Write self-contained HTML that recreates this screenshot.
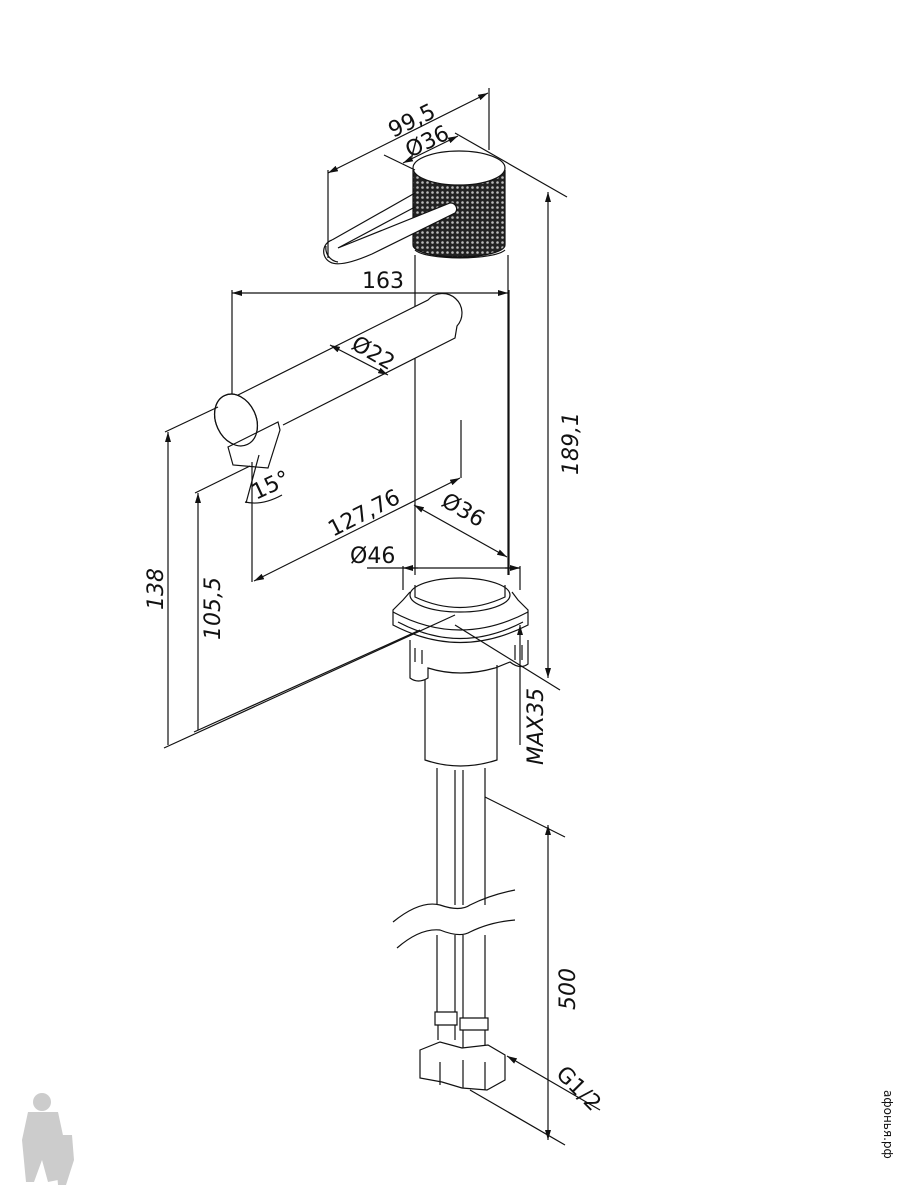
<!DOCTYPE html>
<html><head><meta charset="utf-8"><style>
html,body{margin:0;padding:0;background:#fff;}
svg{display:block;}
text{font-family:"DejaVu Sans","Liberation Sans",sans-serif;fill:#111;}
</style></head><body>
<svg width="900" height="1200" viewBox="0 0 900 1200" xmlns="http://www.w3.org/2000/svg">
<defs>
<marker id="a" viewBox="0 0 10 6" refX="10" refY="3" markerWidth="10" markerHeight="6" orient="auto-start-reverse" markerUnits="userSpaceOnUse"><path d="M0,0 L10,3 L0,6 z" fill="#111"/></marker>
<pattern id="k" width="5" height="5" patternUnits="userSpaceOnUse"><rect width="5" height="5" fill="#222"/><circle cx="2.5" cy="2.5" r="1.3" fill="#bbb"/></pattern>
</defs>
<g fill="none" stroke="#111" stroke-width="1.2">
<!-- knob -->
<path d="M413,170 L413,245 A46,12 0 0 0 505,245 L505,170" fill="url(#k)"/>
<ellipse cx="459" cy="168" rx="46" ry="17" fill="#fff"/>
<path d="M415,250 A46,10 0 0 0 505,250"/>
<!-- lever -->
<path d="M415,193 L332,240 M415,207 L338,248" fill="#fff"/>
<path d="M332,240 A12,12 0 0 0 330,262 Q340,268 372,254 L455,213 A6,6 0 0 0 450,203 L338,248" fill="#fff"/>
<path d="M326,246 A14,14 0 0 0 338,262"/>
<!-- dim 99,5 -->
<line x1="328" y1="173" x2="488" y2="93" marker-start="url(#a)" marker-end="url(#a)"/>
<line x1="328" y1="170" x2="328" y2="258"/>
<line x1="489" y1="88" x2="489" y2="150"/>
<line x1="403" y1="163" x2="458" y2="136" marker-start="url(#a)" marker-end="url(#a)"/>
<line x1="384" y1="155" x2="415" y2="170"/>
<line x1="455" y1="133" x2="567" y2="197"/>
<!-- body -->
<line x1="415" y1="255" x2="415" y2="575"/>
<line x1="508" y1="255" x2="508" y2="575"/>
<!-- 163 -->
<line x1="232" y1="293" x2="508" y2="293" marker-start="url(#a)" marker-end="url(#a)"/>
<line x1="232" y1="290" x2="232" y2="400"/>
<line x1="509" y1="290" x2="509" y2="575"/>
<!-- spout -->
<path d="M232,398 L428,300 A18,18 0 0 1 457,326 L455,338 L283,425" fill="#fff"/>
<ellipse cx="236" cy="420" rx="20" ry="27" transform="rotate(-25 236 420)" fill="#fff"/>
<path d="M228,447 L278,422 L280,430 L268,468 L233,465 z" fill="#fff"/>
<ellipse cx="236" cy="420" rx="20" ry="27" transform="rotate(-25 236 420)"/>
<line x1="330" y1="345" x2="388" y2="375" marker-start="url(#a)" marker-end="url(#a)"/>
<!-- 138/105.5 -->
<line x1="168" y1="745" x2="168" y2="432" marker-end="url(#a)"/>
<line x1="165" y1="432" x2="218" y2="407"/>
<line x1="198" y1="730" x2="198" y2="493" marker-end="url(#a)"/>
<line x1="195" y1="493" x2="250" y2="466"/>
<line x1="164" y1="748" x2="455" y2="615"/>
<line x1="194" y1="732" x2="420" y2="630"/>
<!-- 15° -->
<line x1="252" y1="462" x2="252" y2="582"/>
<line x1="259" y1="455" x2="246" y2="503"/>
<path d="M245,502 Q262,506 282,495"/>
<line x1="254" y1="581" x2="460" y2="478" marker-start="url(#a)" marker-end="url(#a)"/>
<line x1="461" y1="420" x2="461" y2="478"/>
<line x1="414" y1="505" x2="507" y2="557" marker-start="url(#a)" marker-end="url(#a)"/>
<line x1="367" y1="568" x2="520" y2="568"/>
<line x1="403" y1="568" x2="418" y2="568" marker-start="url(#a)"/>
<line x1="505" y1="568" x2="520" y2="568" marker-end="url(#a)"/>
<line x1="403" y1="566" x2="403" y2="590"/>
<line x1="520" y1="566" x2="520" y2="590"/>
<!-- base -->
<path d="M410,592 L403,600 L393,610 L393,625 Q460,660 528,625 L528,610 L518,600 L512,592"/>
<ellipse cx="460" cy="595" rx="50" ry="17" fill="#fff"/>
<path d="M415,585 L415,597 Q460,618 505,597 L505,585"/>
<path d="M393,612 Q460,648 528,612"/>
<path d="M398,622 Q460,655 523,622"/>
<path d="M410,640 L410,678 Q418,684 428,678 L428,668 Q460,678 495,668 L510,662 Q520,670 528,664 L528,640"/>
<path d="M415,648 L415,662 M422,650 L422,664 M515,645 L515,660 M522,645 L522,660"/>
<path d="M425,680 L425,760 Q460,772 497,760 L497,665"/>
<line x1="520" y1="625" x2="520" y2="745" marker-start="url(#a)"/>
<line x1="455" y1="625" x2="560" y2="690"/>
<line x1="548" y1="192" x2="548" y2="678" marker-start="url(#a)" marker-end="url(#a)"/>
<!-- hoses -->
<path d="M437,768 L437,905 M455,770 L455,905 M463,770 L463,905 M485,768 L485,905"/>
<path d="M437,935 L437,1012 M455,935 L455,1012 M463,935 L463,1018 M485,935 L485,1018"/>
<path d="M393,922 Q420,900 440,905 Q460,912 470,905 Q490,895 515,890"/>
<path d="M397,948 Q420,928 440,930 Q460,938 470,932 Q490,922 515,920"/>
<path d="M435,1012 L457,1012 L457,1025 L435,1025 z M460,1018 L488,1018 L488,1030 L460,1030 z"/>
<path d="M438,1025 L438,1040 M455,1025 L455,1040 M463,1030 L463,1048 M485,1030 L485,1048"/>
<path d="M420,1050 L440,1042 L462,1048 L488,1045 L505,1055 L505,1080 L487,1090 L462,1088 L442,1082 L420,1078 z" fill="#fff"/>
<path d="M440,1062 L440,1085 M463,1060 L463,1088 M485,1062 L485,1090"/>
<line x1="485" y1="797" x2="565" y2="837"/>
<line x1="548" y1="825" x2="548" y2="1140" marker-start="url(#a)" marker-end="url(#a)"/>
<line x1="600" y1="1110" x2="507" y2="1056" marker-end="url(#a)"/>
<line x1="470" y1="1090" x2="565" y2="1145"/>
</g>
<g font-size="22">
<text transform="translate(393,138) rotate(-26)">99,5</text>
<text transform="translate(410,158) rotate(-26)">Ø36</text>
<text x="362" y="288">163</text>
<text transform="translate(350,348) rotate(30)">Ø22</text>
<text transform="translate(256,500) rotate(-25)">15°</text>
<text transform="translate(333,537) rotate(-27)">127,76</text>
<text transform="translate(440,505) rotate(30)">Ø36</text>
<text x="350" y="563">Ø46</text>
<text transform="translate(163,610) rotate(-90)" font-style="italic">138</text>
<text transform="translate(220,640) rotate(-90)" font-style="italic">105,5</text>
<text transform="translate(578,475) rotate(-90)" font-style="italic">189,1</text>
<text transform="translate(543,765) rotate(-90)" font-style="italic">MAX35</text>
<text transform="translate(575,1010) rotate(-90)" font-style="italic">500</text>
<text transform="translate(555,1075) rotate(45)">G1/2</text>
</g>
<g fill="#ccc">
<circle cx="42" cy="1102" r="9"/>
<path d="M28,1112 L58,1112 L64,1140 L58,1180 L48,1182 L42,1160 L34,1182 L26,1182 L22,1140 z"/>
<path d="M54,1135 L72,1135 L74,1160 L66,1185 L58,1185 z"/>
</g>
<text transform="translate(884,1090) rotate(90)" font-size="12" fill="#ccc">афонья.рф</text>
</svg>
</body></html>
